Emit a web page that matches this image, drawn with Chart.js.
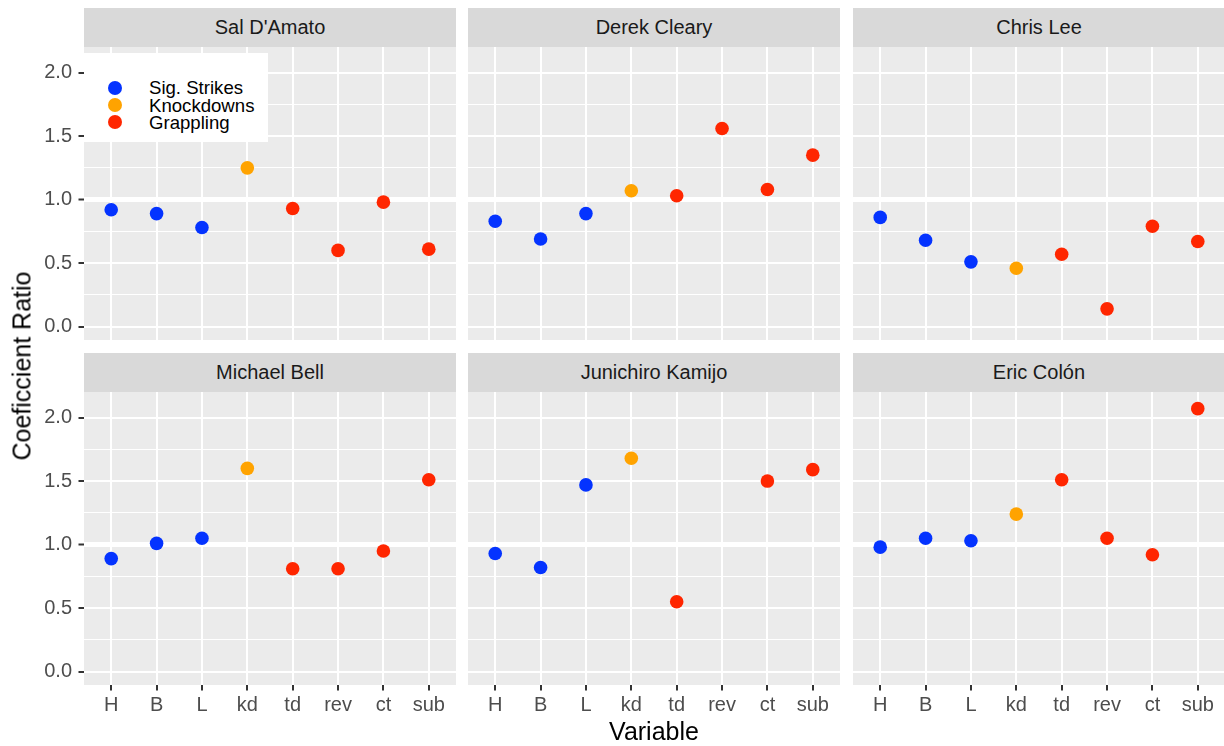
<!DOCTYPE html>
<html>
<head>
<meta charset="utf-8">
<script src="https://cdn.jsdelivr.net/npm/chart.js@4"></script>
<style>
    body { margin: 0; background: #fff; overflow: hidden; }
    #wrap { position: relative; width: 1224px; height: 746px; overflow: hidden; font-family: 'Liberation Sans', Arial, Helvetica, sans-serif; }
    canvas { position: absolute; }
    .strip { position: absolute; background: #D9D9D9; color: #1A1A1A; font-size: 20px; text-align: center; }
    .axis-title { position: absolute; font-size: 25px; color: #000; white-space: nowrap; }
    #legend { position: absolute; left: 84px; top: 53px; width: 184px; height: 89px; background: #fff; z-index: 5; }
    .key { position: absolute; left: 24px; width: 14px; height: 14px; border-radius: 50%; }
    .key-label { position: absolute; left: 65px; font-size: 18.6px; color: #000; line-height: 19px; }
</style>
</head>
<body>
<div id="wrap"></div>
<script>
const categories = ['H', 'B', 'L', 'kd', 'td', 'rev', 'ct', 'sub']
const groupOf = ['Sig. Strikes', 'Sig. Strikes', 'Sig. Strikes', 'Knockdowns', 'Grappling', 'Grappling', 'Grappling', 'Grappling']
const groups = ['Sig. Strikes', 'Knockdowns', 'Grappling']
const groupColors = ['#0433FF', '#FFA300', '#FF2600']

const fighters = ["Sal D'Amato", 'Derek Cleary', 'Chris Lee', 'Michael Bell', 'Junichiro Kamijo', 'Eric Colón']
const salDAmato = [0.92, 0.89, 0.78, 1.25, 0.93, 0.60, 0.98, 0.61]
const derekCleary = [0.83, 0.69, 0.89, 1.07, 1.03, 1.56, 1.08, 1.35]
const chrisLee = [0.86, 0.68, 0.51, 0.46, 0.57, 0.14, 0.79, 0.67]
const michaelBell = [0.89, 1.01, 1.05, 1.60, 0.81, 0.81, 0.95, 1.51]
const junichiroKamijo = [0.93, 0.82, 1.47, 1.68, 0.55, null, 1.50, 1.59]
const ericColon = [0.98, 1.05, 1.03, 1.24, 1.51, 1.05, 0.92, 2.07]
const fighterValues = [salDAmato, derekCleary, chrisLee, michaelBell, junichiroKamijo, ericColon]

const yMajor = [0, 0.5, 1, 1.5, 2]
const yTickLabels = ['0.0', '0.5', '1.0', '1.5', '2.0']
const yMinor = [0.25, 0.75, 1.25, 1.75]
const refLine = 1

Chart.defaults.font.family = "'Liberation Sans', Arial, Helvetica, sans-serif"

const wrap = document.getElementById('wrap')

// panel geometry (ggplot facet_wrap look)
const panelLeft = [84, 468, 853]
const panelTop = [47, 392]
const panelW = 372
const panelH = 293
const stripH = 39
const yAxisW = 84
const xAxisH = 45

const panelBg = {
    id: 'panelBg',
    beforeDraw: (chart) => {
        const {ctx, chartArea} = chart
        ctx.save()
        ctx.fillStyle = '#EBEBEB'
        ctx.fillRect(chartArea.left, chartArea.top, chartArea.width, chartArea.height)
        ctx.restore()
    }
}

const isMajor = (v) => yMajor.some(m => Math.abs(m - v) < 1e-9)

const noPadding = (scale) => {
    scale.paddingLeft = 0
    scale.paddingRight = 0
    scale.paddingTop = 0
    scale.paddingBottom = 0
}

const buildPanel = (idx) => {
    const col = idx % 3
    const row = Math.floor(idx / 3)
    const leftCol = col === 0
    const bottomRow = row === 1

    const strip = document.createElement('div')
    strip.className = 'strip'
    strip.style.left = panelLeft[col] + 'px'
    strip.style.top = (panelTop[row] - stripH) + 'px'
    strip.style.width = panelW + 'px'
    strip.style.height = stripH + 'px'
    strip.style.lineHeight = stripH + 'px'
    strip.textContent = fighters[idx]
    wrap.appendChild(strip)

    const cw = panelW + (leftCol ? yAxisW : 0)
    const ch = panelH + (bottomRow ? xAxisH : 0)
    const canvas = document.createElement('canvas')
    canvas.width = cw
    canvas.height = ch
    canvas.style.width = cw + 'px'
    canvas.style.height = ch + 'px'
    canvas.style.left = (panelLeft[col] - (leftCol ? yAxisW : 0)) + 'px'
    canvas.style.top = panelTop[row] + 'px'
    wrap.appendChild(canvas)

    const vals = fighterValues[idx]
    const datasets = groups.map((g, gi) => ({
        label: g,
        data: categories
            .map((c, i) => ({x: i, y: vals[i]}))
            .filter((p, i) => groupOf[i] === g && p.y !== null),
        backgroundColor: groupColors[gi],
        borderColor: groupColors[gi],
        pointRadius: 6.8,
        pointBorderWidth: 0,
        pointHoverRadius: 6.8
    }))

    new Chart(canvas.getContext('2d'), {
        type: 'scatter',
        data: {datasets},
        plugins: [panelBg],
        options: {
            responsive: false,
            animation: false,
            events: [],
            layout: {padding: 0, autoPadding: false},
            plugins: {
                legend: {display: false},
                tooltip: {enabled: false}
            },
            scales: {
                x: {
                    type: 'linear',
                    min: -0.6,
                    max: 7.6,
                    afterBuildTicks: (scale) => {
                        scale.ticks = categories.map((c, i) => ({value: i}))
                    },
                    afterFit: (scale) => {
                        scale.height = bottomRow ? xAxisH : 0
                        noPadding(scale)
                    },
                    border: {display: false},
                    grid: {
                        color: '#FFFFFF',
                        lineWidth: 2,
                        drawTicks: bottomRow,
                        tickLength: 5.5,
                        tickColor: '#333333',
                        tickWidth: 2
                    },
                    ticks: {
                        display: bottomRow,
                        autoSkip: false,
                        maxRotation: 0,
                        padding: 3,
                        color: '#4D4D4D',
                        font: {size: 20},
                        callback: (v) => categories[v]
                    }
                },
                y: {
                    type: 'linear',
                    min: -0.105,
                    max: 2.201,
                    afterBuildTicks: (scale) => {
                        scale.ticks = [...yMajor, ...yMinor].sort((a, b) => a - b).map(v => ({value: v}))
                    },
                    afterFit: (scale) => {
                        scale.width = leftCol ? yAxisW : 0
                        noPadding(scale)
                    },
                    border: {display: false},
                    grid: {
                        color: '#FFFFFF',
                        lineWidth: (ctx) => {
                            const v = ctx.tick ? ctx.tick.value : 0
                            if (Math.abs(v - refLine) < 1e-9) return 5
                            return isMajor(v) ? 2 : 1
                        },
                        drawTicks: leftCol,
                        tickLength: 5.5,
                        tickWidth: 2,
                        tickColor: (ctx) => (ctx.tick && isMajor(ctx.tick.value)) ? '#333333' : 'rgba(0,0,0,0)'
                    },
                    ticks: {
                        display: leftCol,
                        padding: 6.5,
                        color: '#4D4D4D',
                        font: {size: 20},
                        callback: (v) => {
                            const k = yMajor.findIndex(m => Math.abs(m - v) < 1e-9)
                            return k >= 0 ? yTickLabels[k] : ''
                        }
                    }
                }
            }
        }
    })
}

fighters.forEach((f, i) => buildPanel(i))

// legend inside the first panel
const legend = document.createElement('div')
legend.id = 'legend'
const keyCenters = [34.7, 52, 69.3]
groups.forEach((g, gi) => {
    const key = document.createElement('div')
    key.className = 'key'
    key.style.background = groupColors[gi]
    key.style.top = (keyCenters[gi] - 7) + 'px'
    legend.appendChild(key)
    const lab = document.createElement('div')
    lab.className = 'key-label'
    lab.style.top = (keyCenters[gi] - 9.5) + 'px'
    lab.textContent = g
    legend.appendChild(lab)
})
wrap.appendChild(legend)

// axis titles
const yTitle = document.createElement('div')
yTitle.className = 'axis-title'
yTitle.textContent = 'Coeficcient Ratio'
yTitle.style.left = '22px'
yTitle.style.top = '366px'
yTitle.style.transform = 'translate(-50%, -50%) rotate(-90deg)'
wrap.appendChild(yTitle)

const xTitle = document.createElement('div')
xTitle.className = 'axis-title'
xTitle.textContent = 'Variable'
xTitle.style.left = '654px'
xTitle.style.top = '731px'
xTitle.style.transform = 'translate(-50%, -50%)'
wrap.appendChild(xTitle)
</script>
</body>
</html>
